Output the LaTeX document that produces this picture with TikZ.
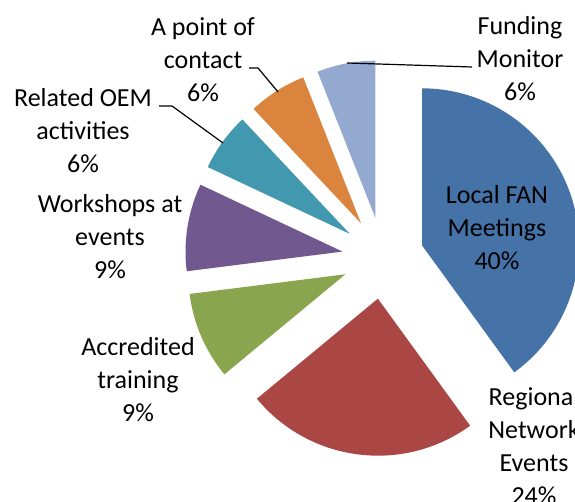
\documentclass[tikz,border=0pt]{standalone}
\usepackage{fontspec}
\setmainfont{Carlito}
\usetikzlibrary{calc}
\definecolor{fanblue}{HTML}{4572A7}
\definecolor{netred}{HTML}{AA4643}
\definecolor{traingreen}{HTML}{89A54E}
\definecolor{shoppurple}{HTML}{71588F}
\definecolor{oemteal}{HTML}{4198AF}
\definecolor{contactorange}{HTML}{DB843D}
\definecolor{fundblue}{HTML}{93A9CF}
\tikzset{x=1pt, y=1pt, % one unit is one pixel of the chart
  pielabel/.style={ % Text of each slice
    align=center,
    inner sep=0pt,
    font=\fontsize{26}{33}\selectfont},
  leader/.style={ % Leader lines from the labels
    draw,
    line width=1.2pt}}

\begin{document}
\begin{tikzpicture}
  \clip (0,0) rectangle (575,502);
  \coordinate (ctr) at (383,244);
  % slices, clockwise from the top, each pushed out from the centre
  \foreach \from/\to/\col in {-54/90/fanblue, -140.4/-54/netred,
      -172.8/-140.4/traingreen, 154.8/187.2/shoppurple,
      133.2/154.8/oemteal, 111.6/133.2/contactorange, 90/111.6/fundblue}{
    \pgfmathsetmacro\mid{(\from+\to)/2}
    \fill[\col] ($(ctr)+(\mid:41pt)$) -- ++(\from:157pt)
      arc[start angle=\from, end angle=\to, radius=157pt] -- cycle;
  }
  \node[pielabel] (fan) at (497,274) {Local FAN\\Meetings\\40\%};
  \node[pielabel] (net) at (534,56) {Regional\\Network\\Events\\24\%};
  \node[pielabel] (train) at (138,122) {Accredited\\training\\9\%};
  \node[pielabel] (shop) at (110,265) {Workshops at\\events\\9\%};
  \node[pielabel] (oem) at (83,371) {Related OEM\\activities\\6\%};
  \node[pielabel] (contact) at (203,442) {A point of\\contact\\6\%};
  \node[pielabel] (fund) at (520,443) {Funding\\Monitor\\6\%};
  \coordinate (oemA) at (159,396);
  \coordinate (oemB) at (172,396);
  \coordinate (oemC) at (223,359);
  \coordinate (contactA) at (249,434);
  \coordinate (contactB) at (258,434);
  \coordinate (contactC) at (278,410);
  \coordinate (fundA) at (472,435);
  \coordinate (fundB) at (347,439);
  \draw[leader] (oemA) -- (oemB) -- (oemC);
  \draw[leader] (contactA) -- (contactB) -- (contactC);
  \draw[leader] (fundA) -- (fundB);
\end{tikzpicture}
\end{document}
